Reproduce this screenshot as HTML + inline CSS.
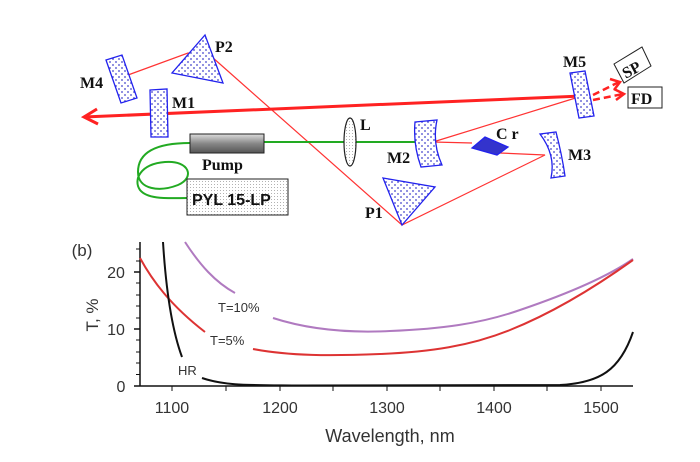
<!DOCTYPE html>
<html><head><meta charset="utf-8"><style>
html,body{margin:0;padding:0;background:#fff;}
svg{display:block;}
.b{font-family:"Liberation Serif",serif;font-weight:bold;font-size:16px;fill:#111;}
.t{font-family:"Liberation Sans",sans-serif;fill:#333;}
</style></head><body>
<svg width="700" height="462" viewBox="0 0 700 462" xmlns="http://www.w3.org/2000/svg">
<defs>
<pattern id="dots" width="6" height="6" patternUnits="userSpaceOnUse"><rect width="6" height="6" fill="#fff"/><circle cx="2" cy="2" r="0.9" fill="#44c"/><circle cx="5" cy="5" r="0.9" fill="#44c"/></pattern>
<pattern id="gd" width="3" height="3" patternUnits="userSpaceOnUse"><rect width="3" height="3" fill="#fff"/><circle cx="1.5" cy="1.5" r="0.5" fill="#999"/></pattern>
<linearGradient id="pg" x1="0" y1="0" x2="0" y2="1"><stop offset="0" stop-color="#ddd"/><stop offset="0.5" stop-color="#888"/><stop offset="1" stop-color="#555"/></linearGradient>
</defs>
<g stroke="#f33" stroke-width="1.2" fill="none">
<polyline points="128,75 188,53 212,57 402,225 545,155 500,153"/>
<line x1="472" y1="143" x2="433" y2="142"/>
<line x1="433" y1="142" x2="582" y2="96"/>
</g>
<g stroke="#2a2" stroke-width="2" fill="none">
<line x1="264" y1="142" x2="433" y2="142"/>
<path d="M190,143 C160,143 138,150 138,172 C138,190 160,192 178,185 C195,178 190,160 165,162 C140,164 133,180 140,190 C148,200 170,198 188,198"/>
</g>
<line x1="582" y1="96" x2="84" y2="117" stroke="#f22" stroke-width="3"/>
<polyline points="97,109 84,117 98,124" fill="none" stroke="#f22" stroke-width="3"/>
<g stroke="#f22" stroke-width="2.5" fill="none" stroke-dasharray="7,4">
<line x1="593" y1="95" x2="619" y2="82"/><line x1="593" y1="100" x2="623" y2="94"/>
</g>
<polyline points="610,79 620,82 614,90" fill="none" stroke="#f22" stroke-width="2.5"/>
<polyline points="614,89 624,94 616,100" fill="none" stroke="#f22" stroke-width="2.5"/>
<g stroke="#22e" stroke-width="1.3" fill="url(#dots)">
<polygon points="106,60 122,55 137,98 121,103"/>
<polygon points="205,35 223,83 172,73"/>
<polygon points="150,90 167,89 168,137 151,137"/>
<polygon points="570,73 585,71 594,116 579,118"/>
<polygon points="383,178 435,187 402,225"/>
<path d="M415,122 L437,120 Q432,143 442,165 L421,167 Q413,145 415,122 Z"/>
<path d="M540,134 L556,132 Q562,155 565,176 L551,178 Q556,155 540,134 Z"/>
<polygon points="472,148 485,137 508,147 497,155" fill="#33c"/>
</g>
<ellipse cx="350" cy="142" rx="6" ry="24" fill="url(#gd)" stroke="#222" stroke-width="1.2"/>
<rect x="190" y="134" width="74" height="19" fill="url(#pg)" stroke="#222"/>
<rect x="187" y="179" width="101" height="36" fill="url(#gd)" stroke="#222"/>
<text x="192" y="205" font-family="Liberation Sans,sans-serif" font-weight="bold" font-size="16" fill="#111">PYL 15-LP</text>
<polygon points="614,64 642,47 651,66 624,83" fill="#fff" stroke="#222"/>
<text x="621" y="74" class="b" transform="rotate(-28 633 67)">SP</text>
<rect x="628" y="87" width="34" height="21" fill="#fff" stroke="#222"/>
<text x="631" y="104" class="b">FD</text>
<text x="80" y="88" class="b">M4</text>
<text x="215" y="52" class="b">P2</text>
<text x="172" y="108" class="b">M1</text>
<text x="202" y="170" class="b">Pump</text>
<text x="360" y="130" class="b">L</text>
<text x="365" y="218" class="b">P1</text>
<text x="387" y="163" class="b">M2</text>
<text x="496" y="139" class="b">C r</text>
<text x="568" y="160" class="b">M3</text>
<text x="563" y="67" class="b">M5</text>
<g stroke="#111" stroke-width="1.5" fill="none">
<line x1="140" y1="242" x2="140" y2="386"/><line x1="140" y1="386" x2="633" y2="386"/>
<line x1="134" y1="386" x2="140" y2="386"/><line x1="134" y1="329" x2="140" y2="329"/><line x1="134" y1="272" x2="140" y2="272"/>
</g>
<g stroke="#111" stroke-width="1">
<line x1="136" y1="374.5" x2="140" y2="374.5"/><line x1="136" y1="363" x2="140" y2="363"/><line x1="136" y1="352" x2="140" y2="352"/><line x1="136" y1="340" x2="140" y2="340"/>
<line x1="136" y1="318" x2="140" y2="318"/><line x1="136" y1="306" x2="140" y2="306"/><line x1="136" y1="295" x2="140" y2="295"/><line x1="136" y1="283" x2="140" y2="283"/>
<line x1="136" y1="261" x2="140" y2="261"/><line x1="136" y1="249" x2="140" y2="249"/>
<line x1="172" y1="386" x2="172" y2="391"/><line x1="226" y1="386" x2="226" y2="391"/><line x1="280" y1="386" x2="280" y2="391"/><line x1="333" y1="386" x2="333" y2="391"/><line x1="387" y1="386" x2="387" y2="391"/><line x1="440" y1="386" x2="440" y2="391"/><line x1="494" y1="386" x2="494" y2="391"/><line x1="547" y1="386" x2="547" y2="391"/><line x1="601" y1="386" x2="601" y2="391"/>
</g>
<g class="t" font-size="16" text-anchor="middle">
<text x="172" y="413">1100</text><text x="280" y="413">1200</text><text x="387" y="413">1300</text><text x="494" y="413">1400</text><text x="601" y="413">1500</text>
<text x="121" y="392">0</text><text x="116" y="335">10</text><text x="116" y="278">20</text>
<text x="390" y="442" font-size="18">Wavelength, nm</text>
<text x="82" y="256" font-size="17">(b)</text>
<text transform="translate(98 315) rotate(-90)" font-size="17">T, %</text>
</g>
<g fill="none" stroke-width="2">
<path d="M185,242 C200,265 215,282 235,293" stroke="#b07ac0"/>
<path d="M273,318 C310,330 350,333 390,331 C440,329 480,324 520,310 C570,293 610,275 633,259" stroke="#b07ac0"/>
<path d="M140,258 C152,280 170,305 205,332" stroke="#d33"/>
<path d="M253,349 C290,356 330,356 380,354 C430,352 470,346 510,330 C560,310 605,280 633,260" stroke="#d33"/>
<path d="M163,242 C166,290 172,330 182,357" stroke="#111"/>
<path d="M202,378 C225,386 250,385 300,385.5 L560,385 C600,383 620,370 633,332" stroke="#111"/>
</g>
<g class="t" font-size="13">
<text x="218" y="312">T=10%</text><text x="210" y="345">T=5%</text><text x="178" y="375">HR</text>
</g>
</svg>
</body></html>
